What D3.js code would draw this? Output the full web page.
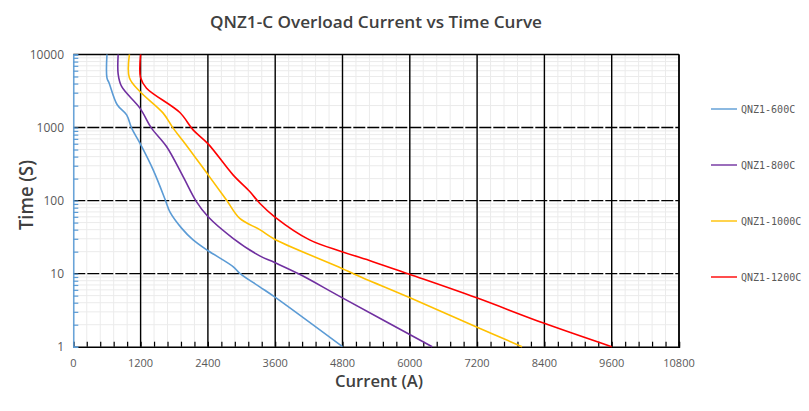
<!DOCTYPE html>
<html lang="en">
<head>
<meta charset="utf-8">
<title>QNZ1-C Overload Current vs Time Curve</title>
<script src="https://cdn.jsdelivr.net/npm/d3@7"></script>
<style>
  body { margin: 0; background: #fff; }
  text { font-family: "Open Sans", sans-serif; }
  text.mono { font-family: "DejaVu Sans Mono", monospace; }
</style>
</head>
<body>
<script type="text/javascript">

var width = 809;
var height = 411;

// series names and colours
var seriesNames = ["QNZ1-600C", "QNZ1-800C", "QNZ1-1000C", "QNZ1-1200C"];
var seriesColors = ["#5b9bd5", "#7030a0", "#ffc000", "#ff0000"];

// current (A) / time (S)
var current600 = [600, 600, 640, 783, 951, 1040, 1188, 1424, 1645, 1722, 1930, 2136, 2404, 2848, 2968, 3324, 3590, 4800];
var time600    = [10000, 4800, 4050, 2050, 1490, 980, 610, 263, 100, 70, 42, 29, 20.6, 12.5, 10.1, 6.6, 4.8, 1];

var current800 = [800, 800, 861, 1188, 1395, 1662, 1958, 2195, 2404, 2848, 3324, 3590, 4035, 4790, 6400];
var time800    = [10000, 5400, 3650, 1845, 982, 550, 213, 97, 60, 30.5, 17.5, 14.2, 9.8, 4.7, 1];

var current1000 = [1000, 1000, 1188, 1602, 1780, 1988, 2404, 2731, 2968, 3324, 3590, 4790, 5014, 5994, 7180, 8000];
var time1000    = [10000, 4800, 3110, 1575, 982, 611, 225, 102, 57, 40, 29.6, 11.8, 9.8, 4.7, 1.88, 1];

var current1200 = [1200, 1200, 1306, 1900, 2136, 2404, 2848, 3146, 3324, 3590, 4213, 4790, 5341, 5994, 7180, 8397, 9600];
var time1200    = [10000, 4800, 3460, 1607, 930, 598, 225, 133, 92, 60, 29, 20, 14.6, 9.8, 4.7, 2.09, 1];

var xTicks = [0, 1200, 2400, 3600, 4800, 6000, 7200, 8400, 9600, 10800];
var yTicks = [1, 10, 100, 1000, 10000];

var seriesCurrent = [current600, current800, current1000, current1200];
var seriesTime = [time600, time800, time1000, time1200];

var svg = d3.select("body").append("svg")
            .attr("width", width)
            .attr("height", height);

var x = d3.scaleLinear().domain([0, 10800]).range([73.3, 679]);
var y = d3.scaleLog().domain([1, 10000]).range([346.7, 54.5]);

// minor grid
var minorX = d3.range(0, 10801, 240);
svg.append("g").selectAll("line")
   .data(minorX)
   .enter().append("line")
   .attr("x1", d => x(d)).attr("x2", d => x(d))
   .attr("y1", y(1)).attr("y2", y(10000))
   .attr("stroke", "#ebebeb").attr("stroke-width", 1);

var minorY = [];
[1, 10, 100, 1000].forEach(function (dec) {
  for (var k = 2; k <= 9; k++) minorY.push(dec * k);
});
svg.append("g").selectAll("line")
   .data(minorY)
   .enter().append("line")
   .attr("x1", x(0)).attr("x2", x(10800))
   .attr("y1", d => y(d)).attr("y2", d => y(d))
   .attr("stroke", "#ebebeb").attr("stroke-width", 1);

// major grid
svg.append("g").selectAll("line")
   .data(xTicks.slice(1))
   .enter().append("line")
   .attr("x1", d => x(d)).attr("x2", d => x(d))
   .attr("y1", y(1)).attr("y2", y(10000))
   .attr("stroke", "#000").attr("stroke-width", 1.4);

svg.append("g").selectAll("line")
   .data([10, 100, 1000])
   .enter().append("line")
   .attr("x1", x(0)).attr("x2", x(10800))
   .attr("y1", d => y(d)).attr("y2", d => y(d))
   .attr("stroke", "#000").attr("stroke-width", 1.4)
   .attr("stroke-dasharray", "12,2");

svg.append("line")
   .attr("x1", x(0)).attr("x2", x(10800))
   .attr("y1", y(10000)).attr("y2", y(10000))
   .attr("stroke", "#000").attr("stroke-width", 1.4);

// x axis (black, ticks upward)
var xAxis = svg.append("g")
   .attr("transform", "translate(0," + y(1) + ")")
   .call(d3.axisTop(x).tickValues(minorX).tickSize(5).tickFormat(""));
xAxis.select(".domain").attr("stroke", "#000").attr("stroke-width", 1.4);
xAxis.selectAll(".tick line").attr("stroke", "#000").attr("stroke-width", 1.2);

svg.append("g").selectAll("text")
   .data(xTicks)
   .enter().append("text")
   .attr("x", d => x(d))
   .attr("y", 367)
   .attr("text-anchor", "middle")
   .attr("font-size", 11)
   .attr("fill", "#595959")
   .text(d => d);

// y axis (blue, minor ticks inward)
var yAxis = svg.append("g")
   .attr("transform", "translate(" + x(0) + ",0)")
   .call(d3.axisRight(y).tickValues(minorY.concat(yTicks)).tickSize(5).tickFormat(""));
yAxis.select(".domain").attr("stroke", "#5b9bd5").attr("stroke-width", 1.4);
yAxis.selectAll(".tick line").attr("stroke", "#5b9bd5").attr("stroke-width", 1.2);

svg.append("g").selectAll("text")
   .data(yTicks)
   .enter().append("text")
   .attr("x", 64)
   .attr("y", d => y(d) + 4)
   .attr("text-anchor", "end")
   .attr("font-size", 12)
   .attr("fill", "#595959")
   .text(d => d);

// right border
svg.append("line")
   .attr("x1", x(10800)).attr("x2", x(10800))
   .attr("y1", y(1)).attr("y2", y(10000))
   .attr("stroke", "#000").attr("stroke-width", 1.4);

// curves
var line = d3.line()
   .x(d => x(d[0]))
   .y(d => y(d[1]))
   .curve(d3.curveCatmullRom.alpha(0.5));

seriesNames.forEach(function (name, i) {
  var pts = seriesCurrent[i].map(function (c, j) { return [c, seriesTime[i][j]]; });
  svg.append("path")
     .datum(pts)
     .attr("d", line)
     .attr("fill", "none")
     .attr("stroke", seriesColors[i])
     .attr("stroke-width", 1.6);
});

// legend
var legendY = [109, 165, 221, 277];
var legend = svg.append("g").selectAll("g")
   .data(seriesNames)
   .enter().append("g")
   .attr("transform", (d, i) => "translate(0," + legendY[i] + ")");
legend.append("line")
   .attr("x1", 711).attr("x2", 737)
   .attr("stroke", (d, i) => seriesColors[i])
   .attr("stroke-width", 1.4);
legend.append("text")
   .attr("class", "mono")
   .attr("x", 741).attr("y", 4)
   .attr("font-size", 10)
   .attr("fill", "#595959")
   .text(d => d);

// titles
svg.append("text")
   .attr("x", 376).attr("y", 28)
   .attr("text-anchor", "middle")
   .attr("font-size", 17)
   .attr("font-weight", 600)
   .attr("fill", "#404040")
   .attr("textLength", 332)
   .attr("lengthAdjust", "spacingAndGlyphs")
   .text("QNZ1-C Overload Current  vs  Time Curve");

svg.append("text")
   .attr("x", 379).attr("y", 387)
   .attr("text-anchor", "middle")
   .attr("font-size", 17)
   .attr("font-weight", 600)
   .attr("fill", "#404040")
   .attr("textLength", 88)
   .attr("lengthAdjust", "spacingAndGlyphs")
   .text("Current (A)");

svg.append("text")
   .attr("transform", "translate(33,195) rotate(-90)")
   .attr("text-anchor", "middle")
   .attr("font-size", 19)
   .attr("font-weight", 600)
   .attr("fill", "#404040")
   .attr("textLength", 70)
   .attr("lengthAdjust", "spacingAndGlyphs")
   .text("Time  (S)");

</script>
</body>
</html>
